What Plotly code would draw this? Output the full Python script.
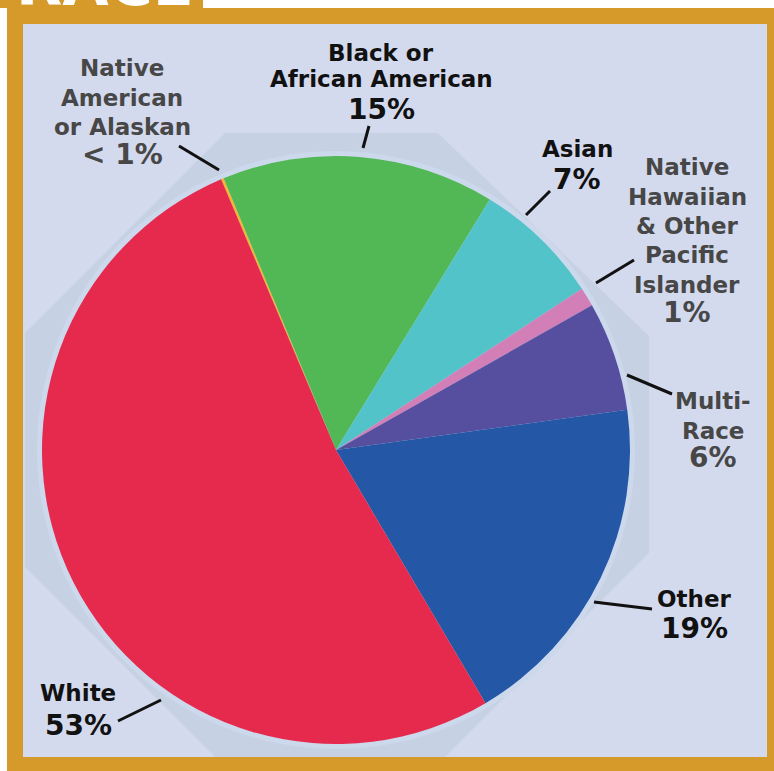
import plotly.graph_objects as go

# ---- data ----
categories = ["Native American or Alaskan", "Black or African American", "Asian",
              "Native Hawaiian & Other Pacific Islander", "Multi-Race", "Other", "White"]
values = [0.15, 15.0, 7.0, 1.05, 6.0, 18.7, 52.1]
pct_labels = ["< 1%", "15%", "7%", "1%", "6%", "19%", "53%"]
name_lines = [["Native", "American", "or Alaskan"], ["Black or", "African American"], ["Asian"],
              ["Native", "Hawaiian", "& Other", "Pacific", "Islander"], ["Multi-", "Race"], ["Other"], ["White"]]
colors = ["#f3b532", "#52b755", "#52c3c9", "#d27fb7", "#564fa0", "#2457a5", "#e52a4e"]

W, H = 774, 771
def X(px): return px / W
def Y(py): return 1 - py / H

# ---- layout config (pixel positions) ----
cx, cy, R = 336, 450, 294
label_x = [122, 381, 577, 687, 713, 694, 78]
label_line_y = [[68, 97.5, 127.5, 155], [53.5, 79.5, 110], [148.5, 179],
                [166.5, 196.5, 225.5, 255, 285, 312], [400.5, 431, 457.5], [599, 628], [693, 725]]
label_color = ["#474747", "#111111", "#111111", "#474747", "#474747", "#111111", "#111111"]
leaders = [((179, 146), (219, 170)), ((363, 148), (369, 126)), ((526, 215), (550, 191)),
           ((596, 283), (634, 260)), ((627, 375), (672, 394)), ((594, 602), (652, 609)),
           ((118, 721), (161, 700))]
FONT = "DejaVu Sans, Open Sans, sans-serif"
NAME_SIZE, PCT_SIZE = 23, 28

GOLD = "#d69a2b"
PANEL = "rgb(212,218,238)"
OCT = "rgb(199,209,228)"

fig = go.Figure()
fig.add_trace(go.Pie(
    labels=categories, values=values, sort=False, direction="clockwise",
    rotation=-23.0, textinfo="none", hoverinfo="label+percent",
    marker=dict(colors=colors, line=dict(width=0)),
    domain=dict(x=[X(cx - R), X(cx + R)], y=[Y(cy + R), Y(cy - R)]),
    showlegend=False,
))

shapes = []
shapes.append(dict(type="rect", xref="paper", yref="paper", x0=X(7), x1=X(774), y0=Y(771), y1=Y(8),
                   fillcolor=GOLD, line=dict(width=0), layer="below"))
shapes.append(dict(type="rect", xref="paper", yref="paper", x0=X(0), x1=X(203), y0=Y(8), y1=Y(0),
                   fillcolor=GOLD, line=dict(width=0), layer="below"))
shapes.append(dict(type="rect", xref="paper", yref="paper", x0=X(23), x1=X(767), y0=Y(757), y1=Y(24),
                   fillcolor=PANEL, line=dict(width=0), layer="below"))
oct_pts = [(225, 133), (438, 133), (649, 336), (649, 553), (445, 757), (215, 757), (25, 567), (25, 333)]
path = "M " + " L ".join(f"{X(a):.5f},{Y(b):.5f}" for a, b in oct_pts) + " Z"
shapes.append(dict(type="path", xref="paper", yref="paper", path=path,
                   fillcolor=OCT, line=dict(width=0), layer="below"))
shapes.append(dict(type="circle", xref="paper", yref="paper",
                   x0=X(cx - R - 5), x1=X(cx + R + 5), y0=Y(cy + R + 5), y1=Y(cy - R - 5),
                   fillcolor="rgb(204,216,235)", line=dict(width=0), layer="below"))
for (a, b) in leaders:
    shapes.append(dict(type="line", xref="paper", yref="paper", x0=X(a[0]), y0=Y(a[1]),
                       x1=X(b[0]), y1=Y(b[1]), line=dict(color="#111111", width=3), layer="above"))

annotations = []
for lines, pct, lx, ys, col in zip(name_lines, pct_labels, label_x, label_line_y, label_color):
    texts = lines + [pct]
    for i, (t, ly) in enumerate(zip(texts, ys)):
        size = PCT_SIZE if i == len(texts) - 1 else NAME_SIZE
        annotations.append(dict(xref="paper", yref="paper", x=X(lx), y=Y(ly), xanchor="center",
                                yanchor="middle", text=f"<b>{t}</b>", showarrow=False,
                                font=dict(family=FONT, size=size, color=col)))
# cut-off heading in the gold tab (only the bottoms of the letters show, as in the reference)
annotations.append(dict(xref="paper", yref="paper", x=X(14), y=Y(21), xanchor="left", yanchor="bottom",
                        text="<b>RACE</b>", showarrow=False,
                        font=dict(family=FONT, size=60, color="white")))

fig.update_layout(width=W, height=H, margin=dict(l=0, r=0, t=0, b=0),
                  paper_bgcolor="white", plot_bgcolor="white",
                  shapes=shapes, annotations=annotations)
fig.write_html("out.html", config={"displayModeBar": False},
               post_script="document.body.style.margin='0';document.body.style.padding='0';")
